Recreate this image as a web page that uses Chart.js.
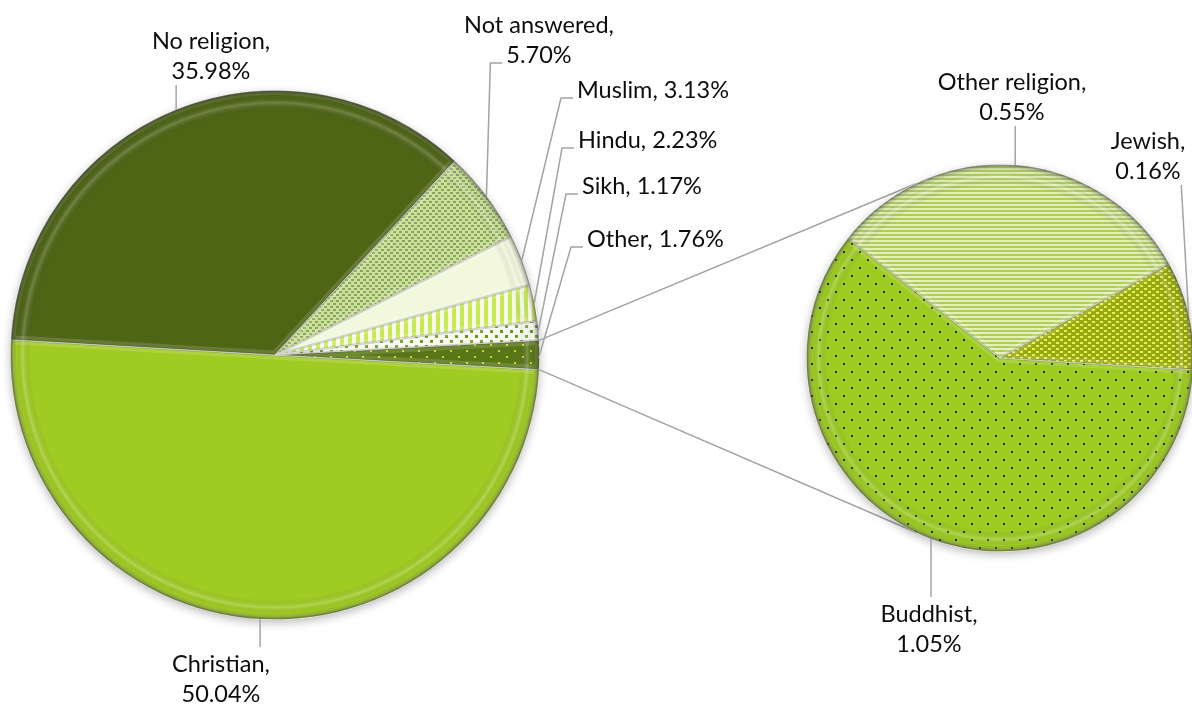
<!DOCTYPE html>
<html>
<head>
<meta charset="utf-8">
<script src="https://cdn.jsdelivr.net/npm/chart.js@4"></script>
<style>
  html, body { margin: 0; padding: 0; background: #fff; overflow: hidden; }
  #wrap { position: relative; width: 1192px; height: 708px; overflow: hidden; }
  #wrap canvas { position: absolute; left: 0; top: 0; }
</style>
</head>
<body>
<div id="wrap">
  <canvas id="main-pie" width="1192" height="708" style="width:1192px;height:708px"></canvas>
  <canvas id="sub-pie" width="1200" height="708" style="width:1200px;height:708px"></canvas>
</div>
<script>
// Religion breakdown, pie-of-pie.

const mainLabels = ['Christian', 'No religion', 'Not answered', 'Muslim', 'Hindu', 'Sikh', 'Other'];
const mainValues = [50.04, 35.98, 5.70, 3.13, 2.23, 1.17, 1.76];

const subLabels = ['Buddhist', 'Other religion', 'Jewish'];
const subValues = [1.05, 0.55, 0.16];

// ── layout ─────────────────────────────────────────────────────────────────

const FONT = '23.5px Lato, "Open Sans", sans-serif';
const LINE_H = 30;
const TEXT_COLOR = '#0d0d0d';
const LEADER_COLOR = '#a3a3a3';

// where each label sits (x, y of first line centre), split = two lines
const mainLabelPos = [
  { x: 221, y: 663, split: true,  align: 'center', leader: 'straight' },
  { x: 211, y: 40,  split: true,  align: 'center', leader: 'straight' },
  { x: 539, y: 24,  split: true,  align: 'center', leader: 'elbow' },
  { x: 577, y: 89,  split: false, align: 'left',   leader: 'elbow' },
  { x: 578, y: 139, split: false, align: 'left',   leader: 'elbow' },
  { x: 582, y: 185, split: false, align: 'left',   leader: 'elbow' },
  { x: 587, y: 238, split: false, align: 'left',   leader: 'elbow' },
];
const subLabelPos = [
  { x: 929, y: 613, split: true, align: 'center', leader: 'straight' },
  { x: 1012, y: 81, split: true, align: 'center', leader: 'straight' },
  { x: 1148, y: 140, split: true, align: 'center', leader: 'straight' },
];

// ── fills ──────────────────────────────────────────────────────────────────

const patCtx = document.createElement('canvas').getContext('2d');

function makePattern(w, h, bg, draw) {
  const c = document.createElement('canvas');
  c.width = w; c.height = h;
  const g = c.getContext('2d');
  g.fillStyle = bg;
  g.fillRect(0, 0, w, h);
  draw(g);
  return patCtx.createPattern(c, 'repeat');
}

const mainFills = [
  '#a0cb22',
  '#4e6516',
  makePattern(6, 6, '#c8e48e', g => { g.fillStyle = '#8e9e72'; g.fillRect(0, 0, 3, 2); g.fillRect(3, 3, 3, 2); }),
  '#f2f7dd',
  makePattern(8, 1, '#f7fbe8', g => { g.fillStyle = '#c6e955'; g.fillRect(4, 0, 4, 1); }),
  makePattern(10, 10, '#f8faf0', g => { g.fillStyle = '#669818'; g.fillRect(0, 0, 3, 3); g.fillRect(5, 5, 3, 3); }),
  makePattern(16, 12, '#587617', g => { g.fillStyle = '#d8d02a'; g.fillRect(2, 2, 2, 2); g.fillRect(10, 8, 2, 2); }),
];
const subFills = [
  makePattern(16, 16, '#9dcb20', g => { g.fillStyle = '#1f2a05'; g.fillRect(3, 3, 2, 2); g.fillRect(11, 11, 2, 2); }),
  makePattern(1, 4, '#e2f1b4', g => { g.fillStyle = '#b0cb60'; g.fillRect(0, 2, 1, 2); }),
  makePattern(8, 6, '#96a814', g => { g.fillStyle = '#e8ef45'; g.fillRect(0, 0, 3, 2); g.fillRect(4, 3, 3, 2); }),
];

// ── plugins ────────────────────────────────────────────────────────────────

// Soft drop shadow under the whole pie.
const pieShadow = {
  id: 'pieShadow',
  beforeDatasetsDraw(chart) {
    const arc = chart.getDatasetMeta(0).data[0];
    if (!arc) return;
    const ctx = chart.ctx;
    ctx.save();
    ctx.shadowColor = 'rgba(0,0,0,0.28)';
    ctx.shadowBlur = 10;
    ctx.shadowOffsetY = 3;
    ctx.fillStyle = '#fff';
    ctx.beginPath();
    ctx.arc(arc.x, arc.y, arc.outerRadius, 0, Math.PI * 2);
    ctx.fill();
    ctx.restore();
  },
};

// Bevel look: light band along slice edges and a dark rim.
const bevel = {
  id: 'bevel',
  afterDatasetsDraw(chart) {
    const ctx = chart.ctx;
    for (const arc of chart.getDatasetMeta(0).data) {
      const { x, y, outerRadius: r, startAngle, endAngle } = arc;
      ctx.save();
      ctx.beginPath();
      ctx.moveTo(x, y);
      ctx.arc(x, y, r, startAngle, endAngle);
      ctx.closePath();
      ctx.clip();

      const grad = ctx.createRadialGradient(x, y, 0, x, y, r);
      grad.addColorStop(0, 'rgba(0,0,0,0)');
      grad.addColorStop((r - 20) / r, 'rgba(0,0,0,0)');
      grad.addColorStop((r - 12) / r, 'rgba(255,255,255,0.2)');
      grad.addColorStop((r - 6) / r, 'rgba(0,0,0,0)');
      grad.addColorStop((r - 3) / r, 'rgba(0,0,0,0.2)');
      grad.addColorStop(1, 'rgba(0,0,0,0.42)');
      ctx.fillStyle = grad;
      ctx.fillRect(x - r, y - r, 2 * r, 2 * r);

      ctx.beginPath();
      ctx.moveTo(x, y);
      ctx.arc(x, y, r, startAngle, endAngle);
      ctx.closePath();
      ctx.lineJoin = 'round';
      ctx.lineWidth = 9;
      ctx.strokeStyle = 'rgba(255,255,255,0.14)';
      ctx.stroke();
      ctx.lineWidth = 2.5;
      ctx.strokeStyle = 'rgba(0,0,0,0.16)';
      ctx.stroke();
      ctx.restore();
    }
  },
};

function labelLines(label, value, split) {
  const pct = value.toFixed(2) + '%';
  return split ? [label + ',', pct] : [label + ', ' + pct];
}

// Data labels with leader lines, placed from the layout table.
function makeLabelPlugin(labels, values, positions) {
  return {
    id: 'sliceLabels',
    afterDraw(chart) {
      const ctx = chart.ctx;
      const arcs = chart.getDatasetMeta(0).data;
      ctx.save();
      ctx.font = FONT;
      ctx.fillStyle = TEXT_COLOR;
      ctx.textBaseline = 'middle';
      arcs.forEach((arc, i) => {
        const pos = positions[i];
        const lines = labelLines(labels[i], values[i], pos.split);
        const w = Math.max(...lines.map(t => ctx.measureText(t).width));
        const left = pos.align === 'center' ? pos.x - w / 2 : pos.x;
        const top = pos.y - 13;
        const bottom = pos.y + (lines.length - 1) * LINE_H + 12;

        // anchor on the rim at the middle angle of the slice
        const mid = (arc.startAngle + arc.endAngle) / 2;
        const ax = arc.x + Math.cos(mid) * arc.outerRadius;
        const ay = arc.y + Math.sin(mid) * arc.outerRadius;

        ctx.strokeStyle = LEADER_COLOR;
        ctx.lineWidth = 1.5;
        ctx.beginPath();
        ctx.moveTo(ax, ay);
        if (pos.leader === 'elbow') {
          const lastW = ctx.measureText(lines[lines.length - 1]).width;
          const lastLeft = pos.align === 'center' ? pos.x - lastW / 2 : pos.x;
          const ey = bottom - 3;
          ctx.lineTo(lastLeft - 16, ey);
          ctx.lineTo(lastLeft - 4, ey);
        } else {
          const ex = Math.min(Math.max(ax, left + 4), left + w - 4);
          const ey = ay > bottom ? bottom + 3 : top - 3;
          ctx.lineTo(ex, ey);
        }
        ctx.stroke();

        ctx.textAlign = pos.align;
        lines.forEach((t, k) => ctx.fillText(t, pos.x, pos.y + 1 + k * LINE_H));
      });
      ctx.restore();
    },
  };
}

// ── charts ─────────────────────────────────────────────────────────────────

const otherShare = mainValues[mainValues.length - 1] / mainValues.reduce((s, v) => s + v, 0);

function pieOptions(padding, rotation) {
  return {
    responsive: false,
    animation: false,
    devicePixelRatio: 1,
    rotation,
    layout: { padding },
    events: [],
    plugins: { legend: { display: false }, tooltip: { enabled: false } },
  };
}

const mainChart = new Chart(document.getElementById('main-pie'), {
  type: 'pie',
  data: {
    labels: mainLabels,
    datasets: [{
      data: mainValues,
      backgroundColor: mainFills,
      borderColor: 'rgba(255,255,255,0.7)',
      borderWidth: 1,
    }],
  },
  // "Other" slice sits centred on the 3 o'clock line, facing the second pie
  options: pieOptions({ left: 10, right: 652, top: 90, bottom: 88 }, 90 + otherShare * 180),
  plugins: [pieShadow, bevel, makeLabelPlugin(mainLabels, mainValues, mainLabelPos)],
});

// Connector lines from the "Other" slice to the upper-left / lower-left rim
// of the second pie.
const connectors = {
  id: 'connectors',
  beforeDatasetsDraw(chart) {
    const src = mainChart.getDatasetMeta(0).data;
    const other = src[src.length - 1];
    const dst = chart.getDatasetMeta(0).data[0];
    const cx = dst.x, cy = dst.y, r = dst.outerRadius;
    const ctx = chart.ctx;
    ctx.save();
    ctx.strokeStyle = LEADER_COLOR;
    ctx.lineWidth = 1.5;
    [[other.startAngle, -1], [other.endAngle, 1]].forEach(([ang, side]) => {
      const px = other.x + Math.cos(ang) * other.outerRadius;
      const py = other.y + Math.sin(ang) * other.outerRadius;
      const t = side * (Math.PI / 2 + 0.45);
      ctx.beginPath();
      ctx.moveTo(px, py);
      ctx.lineTo(cx + Math.cos(t) * r, cy + Math.sin(t) * r);
      ctx.stroke();
    });
    ctx.restore();
  },
};

new Chart(document.getElementById('sub-pie'), {
  type: 'pie',
  data: {
    labels: subLabels,
    datasets: [{
      data: subValues,
      backgroundColor: subFills,
      borderColor: 'rgba(255,255,255,0.7)',
      borderWidth: 1,
    }],
  },
  options: pieOptions({ left: 806, right: 6, top: 163, bottom: 155 }, 93.5),
  plugins: [connectors, pieShadow, bevel, makeLabelPlugin(subLabels, subValues, subLabelPos)],
});
</script>
</body>
</html>
